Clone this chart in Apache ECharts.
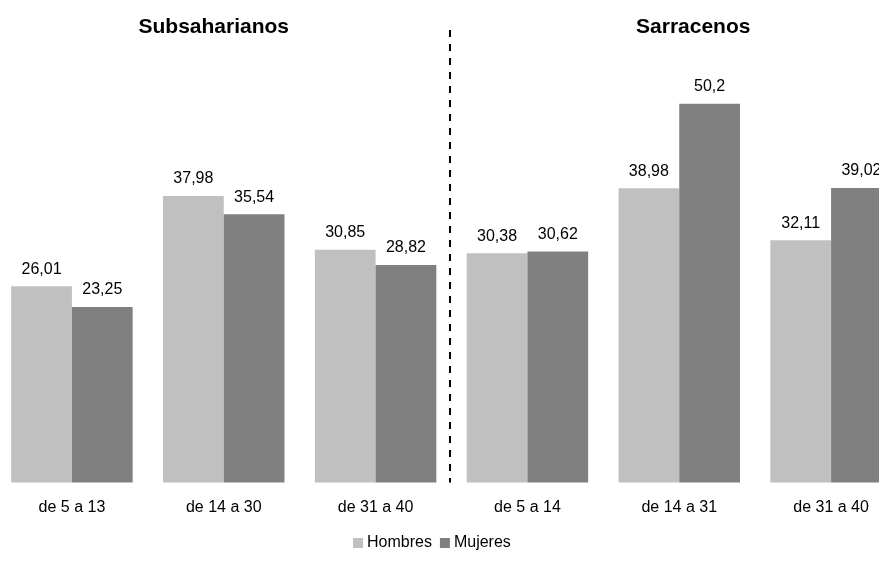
<!DOCTYPE html>
<html>
<head>
<meta charset="utf-8">
<script src="https://cdn.jsdelivr.net/npm/echarts@6/dist/echarts.min.js"></script>
<style>
html,body{margin:0;padding:0;background:#fff;overflow:hidden;width:879px;height:563px;position:relative;}
#c{position:absolute;left:-4px;top:0;width:911px;height:563px;}
</style>
</head>
<body>
<div id="c"></div>
<script>
const categories = ['de 5 a 13','de 14 a 30','de 31 a 40','de 5 a 14','de 14 a 31','de 31 a 40'];
const hombres = [26.01, 37.98, 30.85, 30.38, 38.98, 32.11];
const mujeres = [23.25, 35.54, 28.82, 30.62, 50.2, 39.02];
const groupTitles = ['Subsaharianos', 'Sarracenos'];

const fmt = v => String(v.value).replace('.', ',');
const font = 'Liberation Sans, Arial, sans-serif';

const chart = echarts.init(document.getElementById('c'), null, {renderer:'canvas'});
const option = {
  animation: false,
  backgroundColor: '#fff',
  textStyle: {fontFamily: font},
  grid: {left: 0, right: 0, top: 29.8, bottom: 80.6, containLabel: false},
  legend: {
    data: ['Hombres','Mujeres'],
    bottom: 7, left: 352,
    itemWidth: 10, itemHeight: 10, itemGap: 8,
    icon: 'rect',
    textStyle: {fontSize: 16, color: '#000', fontFamily: font, padding: [0,0,0,-1]}
  },
  xAxis: {
    type: 'category', data: categories,
    axisLine: {show: false}, axisTick: {show: false},
    axisLabel: {fontSize: 16, color: '#000', margin: 17, fontFamily: font, interval: 0}
  },
  yAxis: {type: 'value', min: 0, max: 60, show: false, splitLine: {show: false}},
  series: [
    {name: 'Hombres', type: 'bar', data: hombres, barGap: '0%', barCategoryGap: '20%',
     itemStyle: {color: '#c0c0c0'},
     label: {show: true, position: 'top', distance: 9, fontSize: 16, color: '#000', fontFamily: font, formatter: fmt}},
    {name: 'Mujeres', type: 'bar', data: mujeres, barGap: '0%', barCategoryGap: '20%',
     itemStyle: {color: '#808080'},
     label: {show: true, position: 'top', distance: 9, fontSize: 16, color: '#000', fontFamily: font, formatter: fmt}}
  ]
};
chart.setOption(option);

const p = i => chart.convertToPixel({xAxisIndex: 0}, i);
const xDiv = (p(2) + p(3)) / 2 - 1.5;
const yBase = chart.convertToPixel({yAxisIndex: 0}, 0);
chart.setOption({
  graphic: [
    {type: 'line', shape: {x1: xDiv, y1: 30, x2: xDiv, y2: yBase}, style: {stroke: '#000', lineWidth: 2, lineDash: [7, 7]}},
    {type: 'text', x: p(1) - 10, y: 27, style: {text: groupTitles[0], font: 'bold 21px ' + font, fill: '#000', textAlign: 'center', textVerticalAlign: 'middle'}},
    {type: 'text', x: p(4) + 14, y: 27, style: {text: groupTitles[1], font: 'bold 21px ' + font, fill: '#000', textAlign: 'center', textVerticalAlign: 'middle'}}
  ]
});
</script>
</body>
</html>
